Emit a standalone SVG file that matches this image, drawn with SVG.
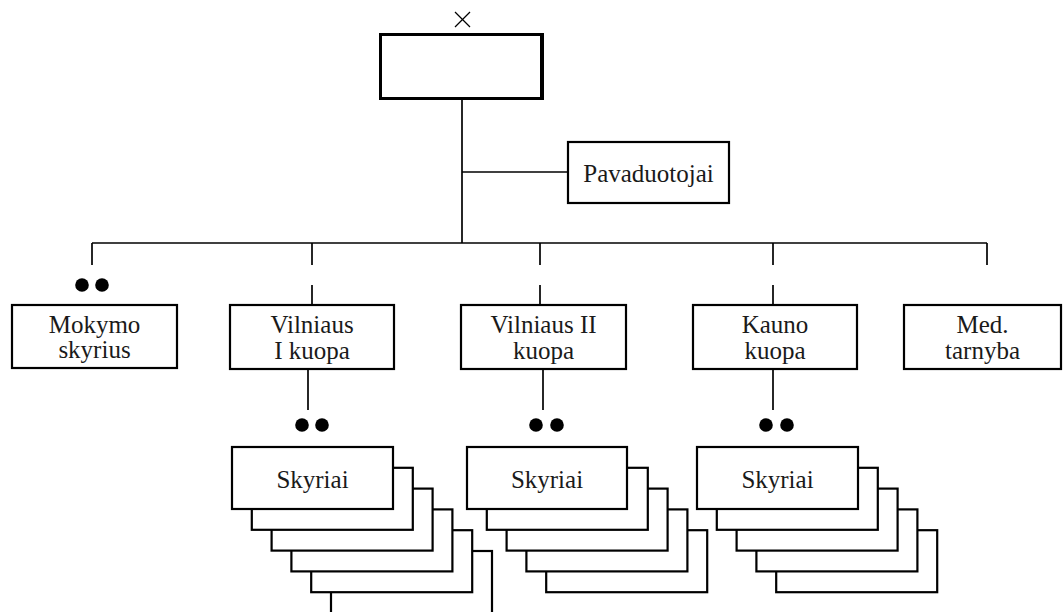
<svg xmlns="http://www.w3.org/2000/svg" width="1063" height="612" viewBox="0 0 1063 612">
<style>
.box{fill:#fff;stroke:#000;stroke-width:2.2}
.ln{stroke:#000;stroke-width:1.7;fill:none}
.t{font-family:"Liberation Serif",serif;font-size:25px;fill:#1a1a1a;text-anchor:middle}
.dot{fill:#000}
</style>
<defs>
<g id="stack5">
<rect class="box" x="79.2" y="83.2" width="161" height="62"/>
<rect class="box" x="59.4" y="62.4" width="161" height="62"/>
<rect class="box" x="39.6" y="41.6" width="161" height="62"/>
<rect class="box" x="19.8" y="20.8" width="161" height="62"/>
</g>
</defs>
<rect width="1063" height="612" fill="#fff"/>
<g id="connectors">
<line class="ln" x1="462" y1="99" x2="462" y2="243"/>
<line class="ln" x1="462" y1="172" x2="568" y2="172"/>
<line class="ln" x1="92" y1="243" x2="987" y2="243"/>
<line class="ln" x1="92" y1="243" x2="92" y2="265"/>
<line class="ln" x1="312" y1="243" x2="312" y2="265"/>
<line class="ln" x1="312" y1="285" x2="312" y2="305"/>
<line class="ln" x1="540" y1="243" x2="540" y2="265"/>
<line class="ln" x1="540" y1="285" x2="540" y2="305"/>
<line class="ln" x1="773" y1="243" x2="773" y2="265"/>
<line class="ln" x1="773" y1="285" x2="773" y2="305"/>
<line class="ln" x1="987" y1="243" x2="987" y2="265"/>
<line class="ln" x1="308" y1="369" x2="308" y2="410"/>
<line class="ln" x1="543" y1="369" x2="543" y2="410"/>
<line class="ln" x1="773" y1="369" x2="773" y2="410"/>
</g>
<g id="top">
<line x1="455" y1="12" x2="470" y2="27" stroke="#000" stroke-width="1.2"/>
<line x1="470" y1="12" x2="455" y2="27" stroke="#000" stroke-width="1.2"/>
<rect x="380.5" y="34.5" width="162" height="64" fill="#fff" stroke="#000" stroke-width="3"/>
<line x1="541" y1="34" x2="541" y2="99" stroke="#000" stroke-width="2"/>
</g>
<g id="pavaduotojai">
<rect class="box" x="568" y="142" width="161" height="61"/>
<text class="t" x="648.5" y="182">Pavaduotojai</text>
</g>
<g id="mokymo">
<circle class="dot" cx="82" cy="285" r="6.8"/>
<circle class="dot" cx="102" cy="285" r="6.8"/>
<rect class="box" x="12" y="305" width="165" height="63"/>
<text class="t" x="94.5" y="333">Mokymo</text>
<text class="t" x="94.5" y="358">skyrius</text>
</g>
<g id="vilniaus1">
<rect class="box" x="230" y="305" width="164" height="64"/>
<text class="t" x="312" y="333">Vilniaus</text>
<text class="t" x="312" y="359">I kuopa</text>
</g>
<g id="vilniaus2">
<rect class="box" x="461" y="305" width="165" height="64"/>
<text class="t" x="543.5" y="333">Vilniaus II</text>
<text class="t" x="543.5" y="359">kuopa</text>
</g>
<g id="kauno">
<rect class="box" x="693" y="305" width="164" height="64"/>
<text class="t" x="775" y="333">Kauno</text>
<text class="t" x="775" y="359">kuopa</text>
</g>
<g id="med">
<rect class="box" x="904" y="305" width="157" height="64"/>
<text class="t" x="982.5" y="333">Med.</text>
<text class="t" x="982.5" y="359">tarnyba</text>
</g>
<g id="skyriai1">
<circle class="dot" cx="302" cy="425" r="6.8"/>
<circle class="dot" cx="322" cy="425" r="6.8"/>
<rect class="box" x="331" y="551" width="161" height="64"/>
<use href="#stack5" x="232" y="447"/>
<rect class="box" x="232" y="447" width="161" height="62"/>
<text class="t" x="312.5" y="488">Skyriai</text>
</g>
<g id="skyriai2">
<circle class="dot" cx="536" cy="425" r="6.8"/>
<circle class="dot" cx="557" cy="425" r="6.8"/>
<use href="#stack5" x="467" y="447"/>
<rect class="box" x="467" y="447" width="160" height="62"/>
<text class="t" x="547" y="488">Skyriai</text>
</g>
<g id="skyriai3">
<circle class="dot" cx="766" cy="425" r="6.8"/>
<circle class="dot" cx="787" cy="425" r="6.8"/>
<use href="#stack5" x="697" y="447"/>
<rect class="box" x="697" y="447" width="161" height="62"/>
<text class="t" x="777.5" y="488">Skyriai</text>
</g>
</svg>
